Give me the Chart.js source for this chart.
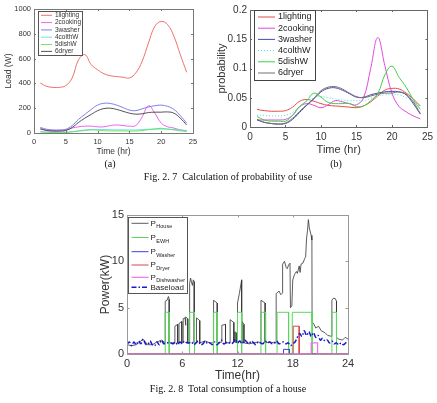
<!DOCTYPE html>
<html><head><meta charset="utf-8">
<script src="https://cdn.jsdelivr.net/npm/chart.js@4"></script>
<style>
html,body{margin:0;padding:0;background:#fff;}
body{width:437px;height:403px;position:relative;overflow:hidden;font-family:"Liberation Serif","Times New Roman",serif;}
canvas{position:absolute;}
.cap{position:absolute;font-size:10px;color:#111;white-space:nowrap;transform:translate(-50%,-50%);line-height:1;}
</style></head><body>
<canvas id="ca" width="215" height="172" style="left:0;top:0"></canvas>
<canvas id="cb" width="222" height="172" style="left:215px;top:0"></canvas>
<canvas id="cc" width="265" height="185" style="left:95px;top:205px"></canvas>
<div class="cap" style="left:110px;top:164px">(a)</div>
<div class="cap" style="left:336px;top:164px">(b)</div>
<div class="cap" style="left:228px;top:177px">Fig. 2. 7&nbsp; Calculation of probability of use</div>
<div class="cap" style="left:228px;top:389px">Fig. 2. 8&nbsp; Total consumption of a house</div>
<script>
// ---------- data: Fig 2.7 ----------
const hours = [1,2,3,4,5,6,7,8,9,10,11,12,13,14,15,16,17,18,19,20,21,22,23,24];
const loadNames = ['1lighting','2cooking','3washer','4colthW','5dishW','6dryer'];
const loadLighting = [403,376,368,368,382,444,590,632,551,510,478,462,455,450,444,484,578,726,860,900,874,780,632,490];
const loadCooking  = [30,22,20,20,25,40,50,55,55,50,50,60,65,60,55,60,130,220,160,80,50,40,25,20];
const loadWasher   = [45,30,25,25,30,60,110,150,190,225,240,238,225,205,185,180,195,210,220,225,215,190,140,80];
const loadCothW    = [8,6,5,5,6,10,18,24,28,29,28,27,25,25,25,25,27,30,31,31,30,28,24,18];
const loadDishW    = [10,7,5,5,5,10,15,20,25,22,18,17,17,17,15,16,20,27,33,38,32,25,17,12];
const loadDryer    = [35,20,15,15,20,45,85,120,150,180,197,200,190,175,160,152,155,165,168,168,170,160,120,65];

const probLighting = [0.030,0.028,0.027,0.027,0.028,0.034,0.044,0.047,0.044,0.040,0.037,0.036,0.035,0.034,0.033,0.036,0.043,0.053,0.063,0.066,0.065,0.058,0.048,0.036];
const probCooking  = [0.012,0.012,0.012,0.012,0.013,0.020,0.035,0.040,0.037,0.033,0.038,0.045,0.043,0.040,0.038,0.050,0.100,0.153,0.105,0.058,0.035,0.026,0.019,0.014];
const probWasher   = [0.012,0.008,0.006,0.005,0.006,0.013,0.025,0.037,0.048,0.060,0.066,0.067,0.063,0.057,0.051,0.051,0.055,0.058,0.060,0.061,0.060,0.055,0.040,0.022];
const probCothW    = [0.020,0.020,0.019,0.019,0.020,0.025,0.034,0.044,0.050,0.052,0.050,0.048,0.046,0.045,0.045,0.045,0.049,0.053,0.055,0.055,0.055,0.050,0.044,0.034];
const probDishW    = [0.018,0.012,0.010,0.010,0.010,0.020,0.035,0.045,0.058,0.051,0.042,0.040,0.040,0.040,0.035,0.036,0.045,0.057,0.089,0.104,0.085,0.068,0.047,0.030];
const probDryer    = [0.013,0.008,0.006,0.005,0.007,0.015,0.027,0.038,0.049,0.062,0.068,0.069,0.065,0.058,0.052,0.050,0.053,0.056,0.058,0.058,0.060,0.056,0.043,0.023];

const aXTicks = [0,5,10,15,20,25];
const aYTicks = [0,200,400,600,800,1000];
const bXTicks = [0,5,10,15,20,25];
const bYTicks = [0,0.05,0.1,0.15,0.2];
const bYLabels = ['0','0.05','0.1','0.15','0.2'];

// ---------- data: Fig 2.8 (time hr, power kW) ----------
const houseData = [[0,1.0],[0.5,0.9],[1,1.0],[1.75,1.6],[2.25,1.0],[2.75,1.0],[3.25,1.3],[3.75,1.5],[4.15,1.2],
 [4.15,5.7],[4.35,5.8],[4.5,6.2],[4.58,5.9],[4.58,1.2],
 [5.2,1.2],[5.2,3.0],[5.5,3.2],[5.5,1.2],
 [5.65,1.2],[5.65,3.3],[5.95,3.5],[5.95,1.2],
 [6.1,1.2],[6.1,3.8],[6.3,3.9],[6.35,3.1],[6.4,4.0],[6.6,3.8],[6.6,1.2],
 [6.8,1.2],[6.8,7.6],[6.9,8.2],[7.1,7.4],[7.2,8.0],[7.3,7.8],[7.3,1.2],
 [7.5,1.2],[7.5,3.7],[7.6,3.9],[7.9,3.6],[7.9,1.2],
 [8.5,1.4],[9.0,1.2],
 [9.4,1.2],[9.4,5.8],[9.8,5.5],[9.8,1.2],
 [10.3,1.3],[10.3,3.1],[10.7,3.2],[10.7,1.2],
 [11.2,1.2],[11.2,3.7],[11.6,3.4],[11.6,1.3],[11.7,1.3],[11.7,2.4],[11.85,2.3],[11.85,1.2],
 [12.0,1.3],[12.0,5.5],[12.2,6.5],[12.45,8.0],[12.45,1.3],
 [12.5,1.2],[12.5,3.5],[12.7,3.2],[12.7,1.2],
 [13.25,1.1],[13.75,1.2],[14.25,1.3],
 [14.55,1.2],[14.55,5.8],[15.0,5.5],[15.0,1.2],
 [15.5,1.3],[16.0,1.2],
 [16.2,1.2],[16.2,6.5],[16.5,6.8],[16.7,6.4],[16.9,6.6],[16.9,9.7],[17.1,10.0],[17.3,9.3],[17.4,9.2],[17.55,9.6],[17.7,9.8],
 [17.75,5.0],[17.9,5.2],[18.0,8.0],[18.2,8.6],[18.4,8.9],[18.5,8.7],[18.7,9.5],[18.8,8.8],[18.9,9.7],[19.1,9.8],[19.3,10.3],
 [19.4,10.5],[19.5,12.5],[19.6,13.3],[19.7,14.5],[19.8,13.6],[20.0,12.8],[20.08,12.3],[20.1,3.5],[20.3,3.2],[20.5,2.8],
 [20.8,3.0],[21.1,2.5],[21.5,2.3],[21.8,2.0],[22.25,1.9],[22.25,5.8],[22.4,6.0],[22.6,6.0],[22.75,5.7],[22.75,1.8],
 [23.0,1.6],[23.4,1.5],[23.7,1.8],[24,1.6]];
const ewhData = [[0,0],[4.15,0],[4.15,4.5],[4.58,4.5],[4.58,0],[6.8,0],[6.8,4.5],[7.33,4.5],[7.33,0],[9.4,0],[9.4,4.5],[9.8,4.5],[9.8,0],
 [12.0,0],[12.0,4.5],[12.45,4.5],[12.45,0],[14.55,0],[14.55,4.5],[15.05,4.5],[15.05,0],[16.3,0],[16.3,4.5],[17.55,4.5],[17.55,0],
 [17.95,0],[17.95,4.5],[20.1,4.5],[20.1,0],[22.25,0],[22.25,4.5],[22.75,4.5],[22.75,0],[24,0]];
const washerData = [[0,0],[17.0,0],[17.0,0.5],[17.65,0.5],[17.65,0],[24,0]];
const dryerData  = [[0,0],[18.05,0],[18.05,3.0],[18.7,3.0],[18.7,0],[24,0]];
const dishData   = [[0,0],[20.0,0],[20.0,1.2],[20.7,1.2],[20.7,0],[24,0]];
const baseT = [0,0.25,0.5,0.75,1,1.25,1.5,1.75,2,2.25,2.5,2.75,3,3.25,3.5,3.75,4,4.25,4.5,4.75,5,5.25,5.5,5.75,6,6.25,6.5,6.75,7,7.25,7.5,7.75,8,8.25,8.5,8.75,9,9.25,9.5,9.75,10,10.25,10.5,10.75,11,11.25,11.5,11.75,12,12.25,12.5,12.75,13,13.25,13.5,13.75,14,14.25,14.5,14.75,15,15.25,15.5,15.75,16,16.25,16.5,16.75,17,17.25,17.5,17.75,18,18.25,18.5,18.75,19,19.25,19.5,19.75,20,20.25,20.5,20.75,21,21.25,21.5,21.75,22,22.25,22.5,22.75,23,23.25,23.5,23.75,24];
const baseV = [1.0,1.3,0.9,1.3,1.0,1.4,1.1,1.6,1.1,1.0,1.4,1.0,0.9,1.3,1.0,1.5,1.1,1.2,1.2,1.2,1.1,1.3,1.0,1.3,1.1,1.4,1.2,1.2,1.3,1.0,1.2,1.4,1.0,1.1,1.4,1.1,1.2,1.0,1.3,1.0,1.2,1.5,1.1,1.2,1.3,1.1,1.2,1.6,1.2,1.4,1.1,1.5,1.3,1.1,1.4,1.2,1.0,1.3,1.2,1.1,1.4,1.2,1.3,1.1,1.2,1.4,1.1,1.2,1.3,1.1,1.2,0.9,1.1,1.3,1.8,2.2,1.9,2.5,2.0,2.4,1.9,2.3,1.8,2.0,1.5,1.7,1.4,1.5,1.2,1.4,1.1,1.2,1.0,1.2,1.0,1.2,1.4];
const cXTicks = [0,6,12,18,24];
const cYTicks = [0,5,10,15];

// ---------- helpers ----------
const SANS = '"Liberation Sans", Arial, sans-serif';
const frame = {
  id: 'frame',
  afterDatasetsDraw(chart, args, o) {
    const {ctx, chartArea: a, scales} = chart;
    ctx.save();
    ctx.strokeStyle = o.color; ctx.lineWidth = 1;
    ctx.strokeRect(Math.round(a.left)+0.5, Math.round(a.top)+0.5, Math.round(a.right-a.left), Math.round(a.bottom-a.top));
    ctx.beginPath();
    scales.x.ticks.forEach(t => {
      const p = Math.round(scales.x.getPixelForValue(t.value))+0.5;
      ctx.moveTo(p, a.bottom); ctx.lineTo(p, a.bottom - o.tick);
      ctx.moveTo(p, a.top); ctx.lineTo(p, a.top + o.tick);
    });
    scales.y.ticks.forEach(t => {
      const p = Math.round(scales.y.getPixelForValue(t.value))+0.5;
      ctx.moveTo(a.left, p); ctx.lineTo(a.left + o.tick, p);
      ctx.moveTo(a.right, p); ctx.lineTo(a.right - o.tick, p);
    });
    ctx.stroke();
    const L = o.legend;
    ctx.fillStyle = '#fff'; ctx.fillRect(L.x, L.y, L.w, L.h);
    ctx.strokeStyle = L.border; ctx.strokeRect(L.x+0.5, L.y+0.5, L.w, L.h);
    chart.data.datasets.forEach((ds, i) => {
      const y = L.rows[i];
      ctx.strokeStyle = ds.borderColor; ctx.lineWidth = ds.borderWidth;
      ctx.setLineDash(ds.borderDash || []);
      ctx.beginPath(); ctx.moveTo(L.x1, y); ctx.lineTo(L.x2, y); ctx.stroke();
      ctx.setLineDash([]);
      ctx.fillStyle = L.color; ctx.textAlign = 'left'; ctx.textBaseline = 'middle';
      ctx.font = L.size + 'px ' + SANS;
      ctx.fillText(ds.label, L.tx, y);
      if (ds.sub) {
        const w = ctx.measureText(ds.label).width;
        ctx.font = L.subSize + 'px ' + SANS;
        ctx.fillText(ds.sub, L.tx + w + 0.5, y + L.subDy);
      }
    });
    ctx.restore();
  }
};
function pts(xs, ys) { return xs.map((x, i) => ({x: x, y: ys[i]})); }
function pairs(arr) { return arr.map(p => ({x: p[0], y: p[1]})); }
function mkScales(cfg) {
  return {
    x: {type: 'linear', min: cfg.xmin, max: cfg.xmax,
      grid: {display: false, drawTicks: false}, border: {display: false},
      ticks: {font: {size: cfg.tick, family: SANS}, color: '#333', padding: cfg.xpad, maxRotation: 0, autoSkip: false,
        callback: v => cfg.xLab ? cfg.xLab[cfg.xT.indexOf(v)] : String(v)},
      afterBuildTicks: s => { s.ticks = cfg.xT.map(v => ({value: v})); },
      afterFit: s => { s.height = cfg.xh; },
      title: {display: true, text: cfg.xTitle, color: '#333', font: {size: cfg.title, family: SANS}, padding: {top: 0, bottom: cfg.xtb}}},
    y: {type: 'linear', min: cfg.ymin, max: cfg.ymax,
      grid: {display: false, drawTicks: false}, border: {display: false},
      ticks: {font: {size: cfg.tick, family: SANS}, color: '#333', padding: cfg.ypad, autoSkip: false,
        callback: v => cfg.yLab ? cfg.yLab[cfg.yT.indexOf(v)] : String(v)},
      afterBuildTicks: s => { s.ticks = cfg.yT.map(v => ({value: v})); },
      afterFit: s => { s.width = cfg.yw; },
      title: {display: true, text: cfg.yTitle, color: '#333', font: {size: cfg.title, family: SANS}, padding: {top: cfg.ytt, bottom: 0}}}
  };
}
const common = {responsive: false, animation: false, devicePixelRatio: 1, events: [],
  elements: {point: {radius: 0}}, plugins: {legend: {display: false}, tooltip: {enabled: false}}};

// ---------- chart (a) ----------
const aColors = ['#ee6060', '#ee50ee', '#7070ee', '#60dede', '#60e060', '#404040'];
const aSeries = [loadLighting, loadCooking, loadWasher, loadCothW, loadDishW, loadDryer];
new Chart(document.getElementById('ca'), {
  type: 'line',
  data: {datasets: aSeries.map((s, i) => ({label: loadNames[i], data: pts(hours, s), borderColor: aColors[i],
    borderWidth: 0.9, tension: 0.4, fill: false, order: 6 - i}))},
  options: Object.assign({}, common, {
    layout: {padding: {left: 0, top: 9, right: 22, bottom: 0}},
    scales: mkScales({xmin: 0, xmax: 25, ymin: 0, ymax: 1000, xT: aXTicks, yT: aYTicks, tick: 7.5, title: 8.5,
      xpad: 4, ypad: 3, xh: 39, yw: 34, xTitle: 'Time (hr)', yTitle: 'Load (W)', xtb: 15, ytt: 4}),
    plugins: Object.assign({}, common.plugins, {frame: {color: '#777', tick: 2,
      legend: {x: 38, y: 11, w: 44, h: 44, border: '#555', color: '#333', size: 6.5, subSize: 5,
        rows: [15.3, 22.6, 29.9, 37.2, 44.5, 51.4], x1: 41, x2: 52, tx: 55}}})
  }),
  plugins: [frame]
});

// ---------- chart (b) ----------
const bColors = ['#e84848', '#e048e0', '#4848b0', '#40e0e0', '#40d040', '#707070'];
const bSeries = [probLighting, probCooking, probWasher, probCothW, probDishW, probDryer];
new Chart(document.getElementById('cb'), {
  type: 'line',
  data: {datasets: bSeries.map((s, i) => ({label: loadNames[i], data: pts(hours, s), borderColor: bColors[i],
    borderWidth: 1, borderDash: i === 3 ? [1, 2] : [], tension: 0.4, fill: false, order: 6 - i}))},
  options: Object.assign({}, common, {
    layout: {padding: {left: 0, top: 10, right: 7, bottom: 0}},
    scales: mkScales({xmin: 0, xmax: 25, ymin: 0, ymax: 0.2, xT: bXTicks, yT: bYTicks, yLab: bYLabels, tick: 10, title: 11,
      xpad: 4, ypad: 3, xh: 45, yw: 35, xTitle: 'Time (hr)', yTitle: 'probability', xtb: 15, ytt: 0}),
    plugins: Object.assign({}, common.plugins, {frame: {color: '#666', tick: 2,
      legend: {x: 39, y: 10, w: 61, h: 70, border: '#444', color: '#222', size: 9, subSize: 6,
        rows: [17, 28.2, 39.4, 50.6, 61.8, 73], x1: 43, x2: 60, tx: 63}}})
  }),
  plugins: [frame]
});

// ---------- chart (c) ----------
new Chart(document.getElementById('cc'), {
  type: 'line',
  data: {datasets: [
    {label: 'P', sub: 'House', data: pairs(houseData), borderColor: '#333', borderWidth: 0.8, tension: 0, order: 6},
    {label: 'P', sub: 'EWH', data: pairs(ewhData), borderColor: '#5ad85a', borderWidth: 1, tension: 0, order: 5},
    {label: 'P', sub: 'Washer', data: pairs(washerData), borderColor: '#4040e0', borderWidth: 1, tension: 0, order: 4},
    {label: 'P', sub: 'Dryer', data: pairs(dryerData), borderColor: '#dd4444', borderWidth: 1, tension: 0, order: 3},
    {label: 'P', sub: 'Dishwasher', data: pairs(dishData), borderColor: '#ee70ee', borderWidth: 1.2, tension: 0, order: 2},
    {label: 'Baseload', data: pts(baseT, baseV), borderColor: '#1a1acc', borderWidth: 1.5, borderDash: [5, 2, 1.5, 2], tension: 0.4, order: 1}
  ]},
  options: Object.assign({}, common, {
    layout: {padding: {left: 0, top: 10, right: 12, bottom: 0}},
    scales: mkScales({xmin: 0, xmax: 24, ymin: 0, ymax: 15, xT: cXTicks, yT: cYTicks, tick: 11, title: 12,
      xpad: 3, ypad: 3, xh: 36, yw: 32, xTitle: 'Time(hr)', yTitle: 'Power(kW)', xtb: 7, ytt: 3}),
    plugins: Object.assign({}, common.plugins, {frame: {color: '#999', tick: 2.5,
      legend: {x: 33, y: 12, w: 59, h: 76, border: '#555', color: '#222', size: 8, subSize: 5.5, subDy: 3.5,
        rows: [18.3, 32.5, 46.7, 60, 72.3, 82.3], x1: 36.5, x2: 53.5, tx: 55.5}}})
  }),
  plugins: [frame]
});
</script>
</body></html>
